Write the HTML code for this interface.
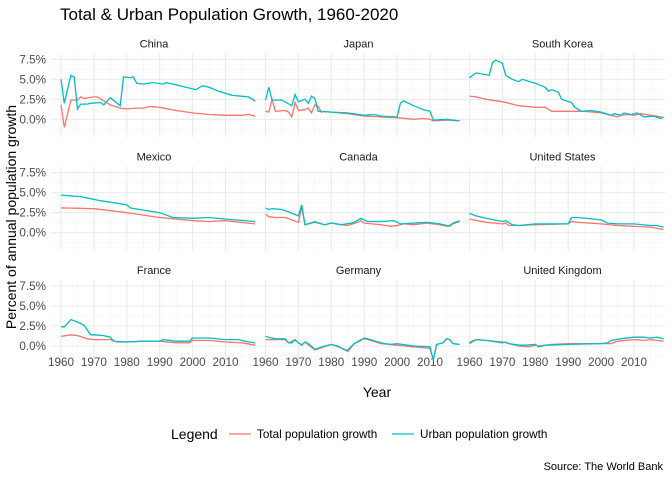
<!DOCTYPE html>
<html><head><meta charset="utf-8"><style>
body{margin:0;background:#fff;font-family:"Liberation Sans",sans-serif}
svg text{font-family:"Liberation Sans",sans-serif}
</style></head><body>
<svg id="c" width="672" height="480"></svg>
<script>
const countries=["China","Japan","South Korea","Mexico","Canada","United States","France","Germany","United Kingdom"];
const xTicks=[1960,1970,1980,1990,2000,2010];
const yTicks=[0,2.5,5,7.5];
const yTickLabels=["0.0%","2.5%","5.0%","7.5%"];
const totalChina=[[1960,1.8],[1961,-1.0],[1963,2.4],[1965,2.4],[1966,2.8],[1967,2.6],[1970,2.8],[1971,2.8],[1973,2.3],[1975,1.8],[1978,1.4],[1980,1.3],[1983,1.4],[1985,1.4],[1987,1.6],[1990,1.5],[1995,1.1],[2000,0.8],[2005,0.6],[2010,0.5],[2015,0.5],[2017,0.6],[2019,0.4]];
const urbanChina=[[1960,5.0],[1961,2.0],[1963,5.5],[1964,5.3],[1965,1.3],[1966,1.9],[1968,1.9],[1969,2.0],[1972,2.1],[1973,1.8],[1975,2.7],[1977,2.0],[1978,1.7],[1979,5.3],[1981,5.2],[1982,5.3],[1983,4.5],[1985,4.4],[1988,4.6],[1991,4.4],[1992,4.6],[1995,4.3],[2000,3.8],[2001,3.7],[2003,4.2],[2005,4.0],[2008,3.5],[2012,3.0],[2017,2.8],[2019,2.3]];
const totalJapan=[[1960,1.0],[1961,0.9],[1962,2.5],[1963,1.0],[1966,1.1],[1967,0.9],[1968,0.3],[1969,2.1],[1970,1.1],[1972,1.2],[1973,1.4],[1974,0.8],[1975,1.8],[1976,1.6],[1977,0.9],[1978,1.0],[1980,0.9],[1985,0.7],[1990,0.4],[1995,0.3],[2000,0.2],[2005,0.0],[2008,0.1],[2010,0.0],[2011,-0.2],[2015,-0.1],[2019,-0.2]];
const urbanJapan=[[1960,2.4],[1961,4.0],[1962,2.4],[1965,2.4],[1968,1.7],[1969,3.1],[1970,2.2],[1972,2.5],[1973,2.0],[1974,2.9],[1975,2.6],[1976,1.0],[1980,0.9],[1985,0.8],[1990,0.5],[1993,0.6],[1995,0.4],[2000,0.3],[2001,2.0],[2002,2.3],[2005,1.7],[2008,1.2],[2010,1.0],[2011,-0.1],[2015,0.0],[2019,-0.2]];
const totalKorea=[[1960,2.9],[1962,2.8],[1965,2.5],[1970,2.2],[1975,1.7],[1980,1.5],[1983,1.5],[1985,1.0],[1990,1.0],[1995,1.0],[2000,0.8],[2005,0.3],[2006,0.5],[2008,0.6],[2010,0.5],[2012,0.7],[2015,0.5],[2017,0.4],[2019,0.2]];
const urbanKorea=[[1960,5.2],[1962,5.8],[1966,5.5],[1967,7.1],[1968,7.4],[1970,7.0],[1971,5.5],[1973,5.0],[1975,4.7],[1976,5.0],[1980,4.5],[1983,4.0],[1984,3.5],[1985,3.7],[1987,3.4],[1988,2.5],[1991,2.1],[1992,1.5],[1994,1.0],[1997,1.1],[2000,0.9],[2003,0.5],[2004,0.7],[2006,0.5],[2007,0.8],[2009,0.6],[2011,0.8],[2013,0.3],[2016,0.4],[2018,0.1],[2019,0.3]];
const totalMexico=[[1960,3.1],[1970,3.0],[1980,2.5],[1990,1.9],[2000,1.5],[2005,1.4],[2010,1.5],[2019,1.1]];
const urbanMexico=[[1960,4.7],[1966,4.5],[1972,4.0],[1980,3.5],[1981,3.1],[1990,2.5],[1994,1.9],[2000,1.8],[2005,1.9],[2010,1.7],[2019,1.4]];
const totalCanada=[[1960,2.3],[1961,2.0],[1963,1.9],[1966,1.9],[1968,1.6],[1970,1.3],[1971,3.2],[1972,1.0],[1975,1.4],[1978,1.0],[1980,1.2],[1983,1.0],[1985,0.9],[1988,1.3],[1989,1.5],[1990,1.2],[1995,1.0],[1998,0.8],[2000,0.9],[2002,1.1],[2005,1.0],[2009,1.2],[2013,1.0],[2015,0.8],[2017,1.1],[2019,1.4]];
const urbanCanada=[[1960,3.1],[1961,2.9],[1962,3.0],[1965,2.9],[1967,2.6],[1970,2.1],[1971,3.5],[1972,1.0],[1975,1.3],[1978,1.0],[1980,1.2],[1983,1.0],[1986,1.2],[1987,1.3],[1989,1.8],[1991,1.4],[1995,1.4],[1999,1.5],[2001,1.1],[2005,1.2],[2009,1.3],[2013,1.1],[2016,0.8],[2017,1.2],[2019,1.5]];
const totalUS=[[1960,1.7],[1965,1.3],[1970,1.1],[1971,1.2],[1972,0.9],[1975,0.9],[1980,1.0],[1990,1.1],[1991,1.4],[1993,1.3],[2000,1.1],[2005,0.9],[2010,0.8],[2015,0.7],[2019,0.4]];
const urbanUS=[[1960,2.4],[1962,2.1],[1965,1.8],[1970,1.4],[1971,1.5],[1973,1.0],[1975,0.9],[1980,1.1],[1990,1.1],[1991,1.9],[1993,1.9],[2000,1.6],[2002,1.2],[2005,1.1],[2010,1.1],[2015,0.9],[2017,0.9],[2019,0.7]];
const totalFrance=[[1960,1.2],[1963,1.4],[1965,1.3],[1968,0.9],[1970,0.8],[1975,0.8],[1977,0.5],[1980,0.5],[1985,0.6],[1990,0.6],[1995,0.4],[1999,0.4],[2000,0.7],[2005,0.7],[2010,0.5],[2015,0.4],[2019,0.1]];
const urbanFrance=[[1960,2.4],[1961,2.4],[1963,3.3],[1965,3.0],[1967,2.6],[1969,1.4],[1970,1.4],[1973,1.3],[1975,1.1],[1976,0.6],[1980,0.5],[1985,0.6],[1990,0.6],[1991,0.8],[1995,0.6],[1999,0.6],[2000,1.0],[2005,1.0],[2010,0.8],[2014,0.8],[2017,0.5],[2019,0.4]];
const totalGermany=[[1960,0.8],[1963,0.8],[1966,0.8],[1967,0.4],[1969,0.8],[1970,0.4],[1971,0.1],[1972,0.5],[1975,-0.5],[1980,0.2],[1984,-0.4],[1985,-0.7],[1987,0.3],[1989,0.8],[1990,0.9],[1992,0.7],[1995,0.3],[2000,0.1],[2005,-0.1],[2010,-0.3],[2011,-1.7],[2012,0.2],[2014,0.4],[2015,0.9],[2016,0.8],[2017,0.3],[2019,0.2]];
const urbanGermany=[[1960,1.2],[1961,1.1],[1963,0.9],[1966,0.9],[1967,0.4],[1968,0.4],[1969,0.8],[1970,0.4],[1971,0.1],[1972,0.5],[1973,0.3],[1975,-0.4],[1978,0.0],[1980,0.2],[1982,0.0],[1984,-0.5],[1985,-0.5],[1987,0.3],[1989,0.7],[1990,1.0],[1992,0.8],[1995,0.4],[1998,0.2],[2000,0.3],[2005,0.0],[2010,-0.1],[2011,-1.8],[2012,0.2],[2014,0.4],[2015,0.9],[2016,0.8],[2017,0.3],[2019,0.2]];
const totalUK=[[1960,0.5],[1962,0.8],[1965,0.7],[1970,0.5],[1972,0.3],[1975,0.0],[1978,-0.1],[1980,0.1],[1981,0.0],[1985,0.2],[1990,0.3],[2000,0.3],[2003,0.3],[2005,0.6],[2010,0.8],[2013,0.7],[2015,0.8],[2017,0.7],[2019,0.6]];
const urbanUK=[[1960,0.3],[1962,0.8],[1965,0.7],[1970,0.4],[1971,0.5],[1972,0.3],[1975,0.1],[1977,0.1],[1980,0.2],[1981,-0.1],[1983,0.1],[1990,0.2],[2000,0.3],[2002,0.4],[2003,0.7],[2006,0.9],[2010,1.1],[2013,1.1],[2015,1.0],[2017,1.1],[2019,0.9]];
const totals=[totalChina,totalJapan,totalKorea,totalMexico,totalCanada,totalUS,totalFrance,totalGermany,totalUK];
const urbans=[urbanChina,urbanJapan,urbanKorea,urbanMexico,urbanCanada,urbanUS,urbanFrance,urbanGermany,urbanUK];

const NS="http://www.w3.org/2000/svg",svg=document.getElementById("c");
function mk(t,a,p){const e=document.createElementNS(NS,t);for(const k in a)e.setAttribute(k,a[k]);(p||svg).appendChild(e);return e;}
const colX0=[61,265.5,469.5],rowY0=[119.3,232.7,346],XS=3.29,YS=8;
function tx(c,y){return colX0[c]+(y-1960)*XS;}
function ty(r,v){return rowY0[r]-v*YS;}
let t=mk("text",{x:60,y:20,"font-size":17,fill:"#000"});t.textContent="Total & Urban Population Growth, 1960-2020";


countries.forEach((name,i)=>{
  const c=i%3,r=Math.floor(i/3);
  const g=mk("g",{});
  
  
  const L=colX0[c]-10,R=colX0[c]+196,T=rowY0[r]-66,B=rowY0[r]+18;
  [-1.25,1.25,3.75,6.25].forEach(v=>mk("line",{x1:L,x2:R,y1:ty(r,v),y2:ty(r,v),stroke:"#f2f2f2","stroke-width":0.6},g));
  [1965,1975,1985,1995,2005,2015].forEach(v=>mk("line",{x1:tx(c,v),x2:tx(c,v),y1:T,y2:B,stroke:"#f2f2f2","stroke-width":0.6},g));
  yTicks.forEach(v=>mk("line",{x1:L,x2:R,y1:ty(r,v),y2:ty(r,v),stroke:"#ebebeb","stroke-width":1.1},g));
  xTicks.forEach(v=>mk("line",{x1:tx(c,v),x2:tx(c,v),y1:T,y2:B,stroke:"#ebebeb","stroke-width":1.1},g));
  const s=mk("text",{x:(L+R)/2,y:rowY0[r]-72,"font-size":11,fill:"#1a1a1a","text-anchor":"middle"},g);s.textContent=name;
  
  
  if(c===0) yTicks.forEach((v,k)=>{const e=mk("text",{x:46,y:ty(r,v)+4,"font-size":11.7,fill:"#4d4d4d","text-anchor":"end"},g);e.textContent=yTickLabels[k];
    
    });
  if(r===2) xTicks.forEach(v=>{const e=mk("text",{x:tx(c,v),y:366,"font-size":11.7,fill:"#4d4d4d","text-anchor":"middle"},g);e.textContent=v;
    
    });
  [[totals[i],"#F8766D","total-line"],[urbans[i],"#00BFC4","urban-line"]].forEach(([d,col,nm])=>{
    const p=mk("polyline",{points:d.map(q=>tx(c,q[0])+","+ty(r,q[1])).join(" "),fill:"none",stroke:col,"stroke-width":1.3},g);
    
    
  });
});
t=mk("text",{x:377,y:397,"font-size":14,"text-anchor":"middle"});t.textContent="Year";


t=mk("text",{x:0,y:0,"font-size":14,"text-anchor":"middle",transform:"translate(16,217) rotate(-90)"});t.textContent="Percent of annual population growth";


const lg=mk("g",{});


t=mk("text",{x:171,y:439,"font-size":14},lg);t.textContent="Legend";
mk("line",{x1:229,x2:251,y1:434,y2:434,stroke:"#F8766D","stroke-width":1.3},lg);
t=mk("text",{x:257,y:438,"font-size":11.7},lg);t.textContent="Total population growth";
mk("line",{x1:392,x2:414,y1:434,y2:434,stroke:"#00BFC4","stroke-width":1.3},lg);
t=mk("text",{x:420,y:438,"font-size":11.7},lg);t.textContent="Urban population growth";
t=mk("text",{x:663,y:470,"font-size":11,"text-anchor":"end"});t.textContent="Source: The World Bank";


</script>
</body></html>
